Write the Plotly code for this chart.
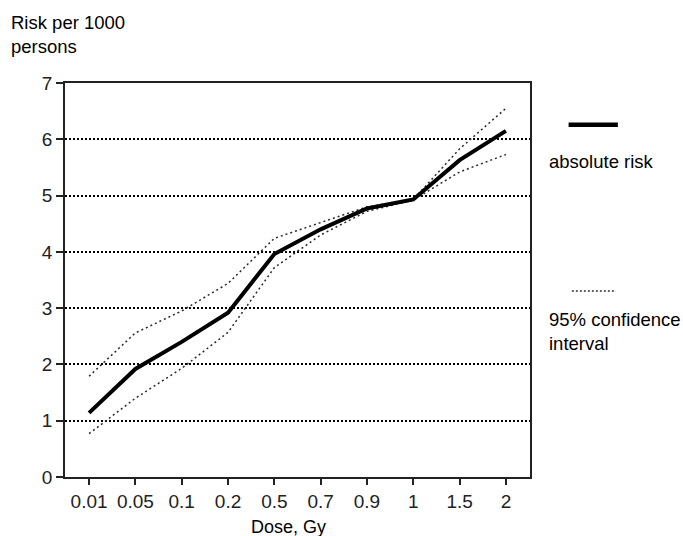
import plotly.graph_objects as go

# Dose categories (Gy) and excess risk per 1000 persons
doses = ["0.01", "0.05", "0.1", "0.2", "0.5", "0.7", "0.9", "1", "1.5", "2"]
absolute_risk = [1.14, 1.92, 2.40, 2.92, 3.96, 4.40, 4.77, 4.93, 5.63, 6.15]
ci_upper = [1.79, 2.56, 2.95, 3.44, 4.24, 4.52, 4.80, 4.93, 5.83, 6.55]
ci_lower = [0.77, 1.40, 1.93, 2.57, 3.72, 4.30, 4.72, 4.92, 5.42, 5.73]
y_ticks = [0, 1, 2, 3, 4, 5, 6, 7]

FONT = "Liberation Sans, Arial, sans-serif"
CI_STYLE = dict(color="#2a2a2a", width=1.5, dash="2px,3px")

fig = go.Figure()
fig.add_trace(go.Scatter(x=doses, y=ci_upper, mode="lines", line=CI_STYLE,
                         showlegend=False, hoverinfo="skip"))
fig.add_trace(go.Scatter(x=doses, y=ci_lower, mode="lines", line=CI_STYLE,
                         showlegend=False, hoverinfo="skip"))
fig.add_trace(go.Scatter(x=doses, y=absolute_risk, mode="lines",
                         line=dict(color="black", width=4),
                         showlegend=False, name="absolute risk"))

fig.update_layout(
    width=683, height=536,
    margin=dict(l=65, r=153, t=83, b=59),
    paper_bgcolor="white", plot_bgcolor="white",
    font=dict(family=FONT, size=18, color="black"),
    showlegend=False,
)
fig.update_xaxes(
    type="category", range=[-0.52, 9.52],
    showline=True, linecolor="#222222", linewidth=1.5, mirror=True,
    ticks="outside", ticklen=6, tickcolor="#222222", tickwidth=1.5,
    showgrid=False, zeroline=False,
    tickfont=dict(size=19, color="#222222"),
)
fig.update_yaxes(
    range=[0, 7], tickvals=y_ticks,
    showline=True, linecolor="#222222", linewidth=1.5, mirror=True,
    ticks="outside", ticklen=7, tickcolor="#222222", tickwidth=1.5,
    showgrid=True, gridcolor="black", gridwidth=1.5, griddash="2px,2px",
    zeroline=False,
    tickfont=dict(size=19, color="#222222"),
)

# Axis titles
fig.add_annotation(text="Risk per 1000<br>persons", xref="paper", yref="paper",
                   x=-0.12, y=1.0, xanchor="left", yanchor="bottom",
                   yshift=24, align="left", showarrow=False,
                   font=dict(size=18.5))
fig.add_annotation(text="Dose, Gy", xref="paper", yref="paper",
                   x=0.48, y=0, xanchor="center", yanchor="middle",
                   yshift=-50, showarrow=False, font=dict(size=18))

# Key on the right
fig.add_shape(type="line", xref="paper", yref="paper",
              x0=1.083, x1=1.189, y0=0.894, y1=0.894,
              line=dict(color="black", width=4.5))
fig.add_annotation(text="absolute risk", xref="paper", yref="paper",
                   x=1.036, y=0.801, xanchor="left", yanchor="middle",
                   showarrow=False, font=dict(size=18.5))
fig.add_shape(type="line", xref="paper", yref="paper",
              x0=1.09, x1=1.185, y0=0.472, y1=0.472,
              line=dict(color="#333333", width=1.4, dash="2px,2px"))
fig.add_annotation(text="95% confidence<br>interval", xref="paper", yref="paper",
                   x=1.036, y=0.37, xanchor="left", yanchor="middle",
                   align="left", showarrow=False, font=dict(size=18.5))

fig.write_html("out.html")
